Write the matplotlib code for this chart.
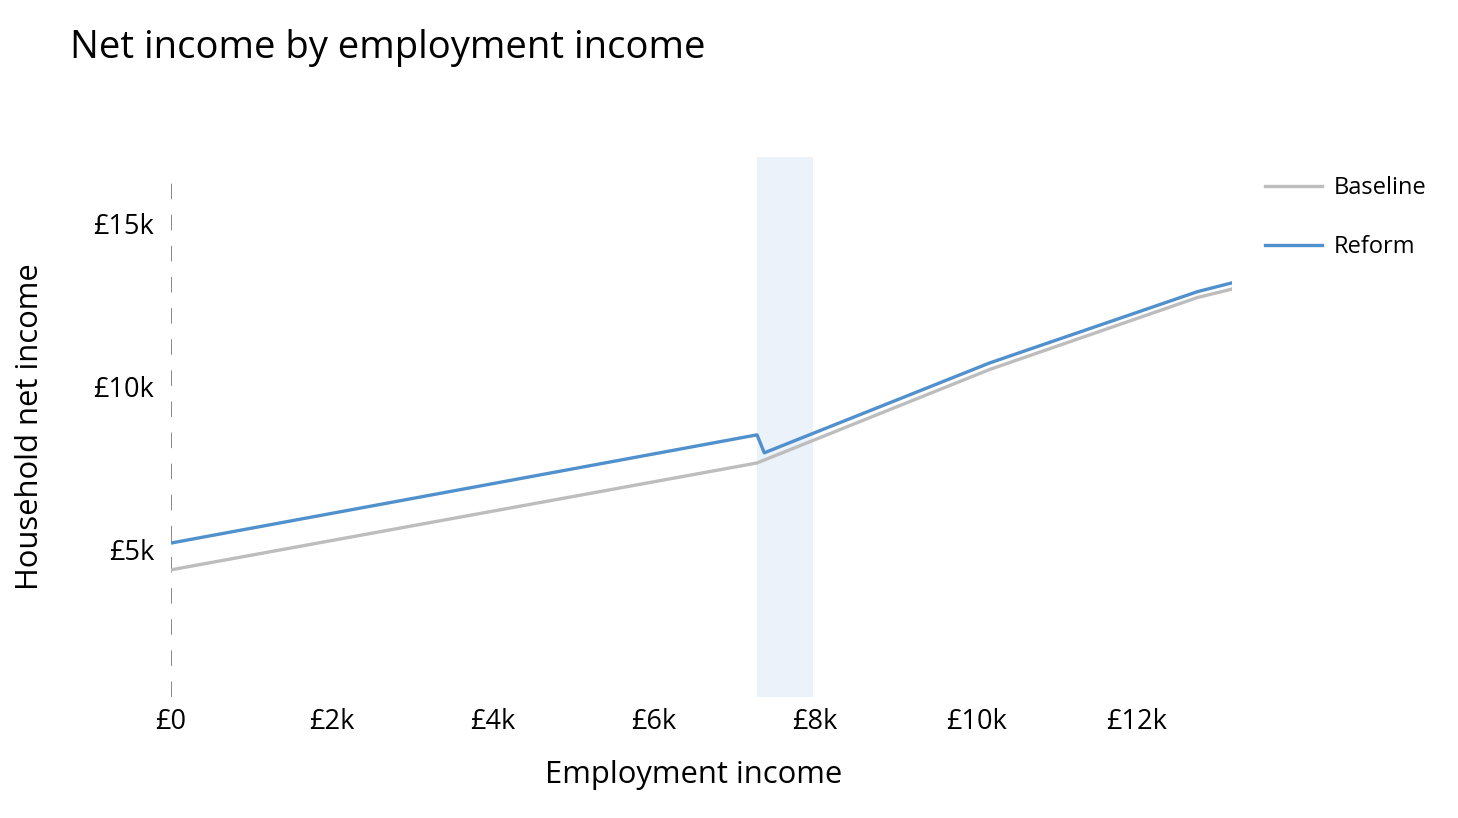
import matplotlib.pyplot as plt

# valores (libras)
ingreso_empleo = [0, 7280, 7370, 10170, 12750, 13180]
neto_baseline = [4390, 7660, 7750, 10520, 12720, 12980]
neto_reform = [5210, 8520, 7970, 10720, 12900, 13170]

zona_inicio = 7280
zona_fin = 7980

x_ticks = [0, 2000, 4000, 6000, 8000, 10000, 12000]
x_labels = ["£0", "£2k", "£4k", "£6k", "£8k", "£10k", "£12k"]
y_ticks = [5000, 10000, 15000]
y_labels = ["£5k", "£10k", "£15k"]

plt.rcParams['font.family'] = ['Open Sans', 'DejaVu Sans']

fig = plt.figure(figsize=(14.58, 8.18), dpi=100)
ax = fig.add_axes([171/1458, 1 - 697/818, (1232 - 171)/1458, (697 - 157)/818])

ax.axvspan(zona_inicio, zona_fin, color="#5091CD", alpha=0.11, lw=0, zorder=0)
ax.axvline(0, ymax=0.965, color="#888888", lw=1.4, dashes=(8, 8), zorder=1)

ax.plot(ingreso_empleo, neto_baseline, color="#BDBDBD", lw=2.4, label="Baseline", zorder=2)
ax.plot(ingreso_empleo, neto_reform, color="#5091CD", lw=2.4, label="Reform", zorder=3)

ax.set_xlim(0, 13180)
ax.set_ylim(500, 17020)
ax.set_xticks(x_ticks, labels=x_labels)
ax.set_yticks(y_ticks, labels=y_labels)
ax.tick_params(length=0, labelsize=19.5)
ax.tick_params(axis='x', pad=8)
ax.tick_params(axis='y', pad=12)
for s in ax.spines.values():
    s.set_visible(False)

ax.set_xlabel("Employment income", fontsize=22.3, va='center')
ax.set_ylabel("Household net income", fontsize=22.3, va='center')
ax.xaxis.set_label_coords((694 - 171)/1061, (697 - 775)/540)
ax.yaxis.set_label_coords((30 - 171)/1061, 0.5)

fig.text(70/1458, 1 - 48/818, "Net income by employment income", fontsize=27.5, va='center', ha='left')

ax.legend(loc='upper left', bbox_to_anchor=(1244/1458, 1 - 155/818), bbox_transform=fig.transFigure,
          frameon=False, fontsize=17, handlelength=2.4, labelspacing=1.47, handletextpad=0.5)

fig.savefig("out.png", dpi=100)
